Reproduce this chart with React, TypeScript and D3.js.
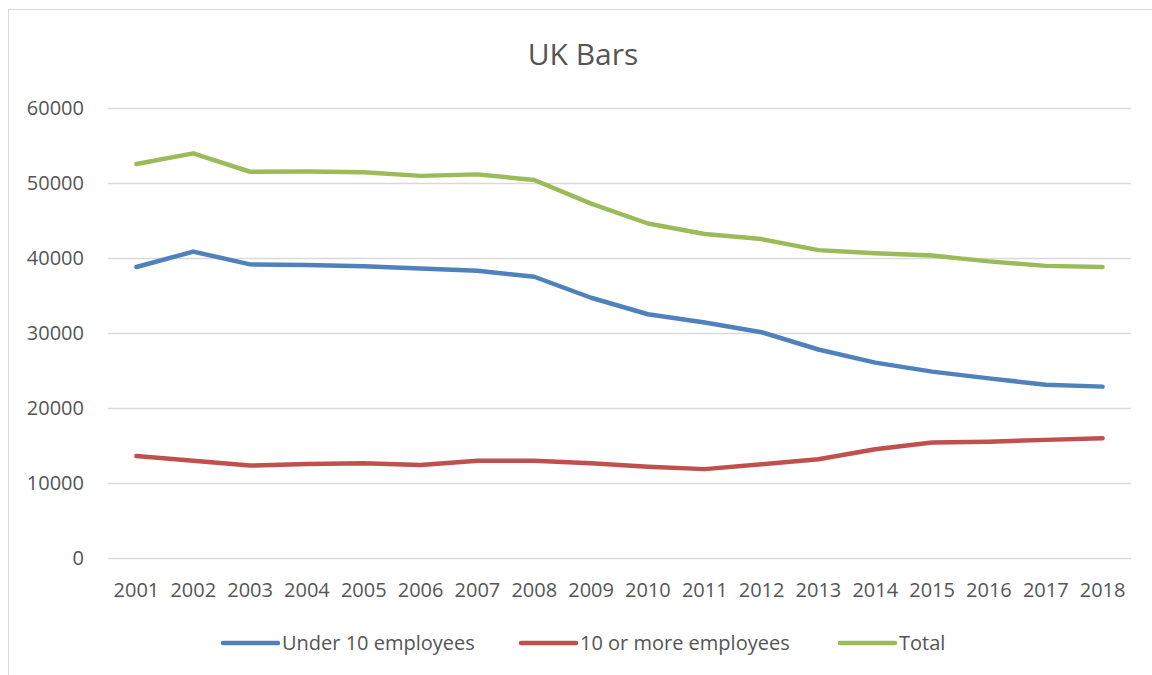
import React from "react";
import * as d3 from "d3";

const years = ["2001","2002","2003","2004","2005","2006","2007","2008","2009","2010","2011","2012","2013","2014","2015","2016","2017","2018"];
const under10 = [38800,40850,39150,39070,38900,38600,38300,37500,34700,32500,31400,30100,27800,26050,24850,23950,23100,22850];
const tenOrMore = [13600,12970,12320,12520,12620,12400,12980,12980,12620,12180,11850,12500,13170,14500,15400,15500,15750,15980];
const total = [52530,53950,51500,51520,51420,50950,51150,50400,47250,44600,43200,42520,41050,40620,40320,39550,38950,38800];
const yTicks = [0,10000,20000,30000,40000,50000,60000];
const seriesNames = ["Under 10 employees","10 or more employees","Total"];
const seriesColors = ["#4F81BD","#C0504D","#9BBB59"];

const W = 1152, H = 675;
const FONT = "'Open Sans', 'Noto Sans', sans-serif";
const TEXT = "#555555";

export default function App() {
  const x = d3.scaleBand<string>().domain(years).range([108, 1131]);
  const y = d3.scaleLinear().domain([0, 60000]).range([558, 108]);
  const line = d3.line<number>()
    .x((_, i) => (x(years[i]) as number) + x.bandwidth() / 2)
    .y(d => y(d));
  const data = [under10, tenOrMore, total];
  const legendX = [223, 521, 840];
  return (
    <svg width={W} height={H} style={{ position: "absolute", left: 0, top: 0, background: "#fff" }} fontFamily={FONT}>
      <rect x={8.5} y={9.5} width={W} height={H} fill="#fff" stroke="#D9D9D9" strokeWidth={1} />
      <text x={583} y={65} textAnchor="middle" fontSize={30} fill={TEXT}>UK Bars</text>
      {yTicks.map(t => (
        <g key={t}>
          <line x1={108} x2={1131} y1={y(t) + 0.5} y2={y(t) + 0.5} stroke="#D9D9D9" strokeWidth={1.5} />
          <text x={84} y={y(t) + 7} textAnchor="end" fontSize={20} fill={TEXT}>{t}</text>
        </g>
      ))}
      {years.map(yr => (
        <text key={yr} x={(x(yr) as number) + x.bandwidth() / 2} y={597} textAnchor="middle" fontSize={20} fill={TEXT}>{yr}</text>
      ))}
      {data.map((s, i) => (
        <path key={i} d={line(s) || ""} fill="none" stroke={seriesColors[i]} strokeWidth={4.5} strokeLinecap="round" strokeLinejoin="round" />
      ))}
      {seriesNames.map((n, i) => (
        <g key={n}>
          <line x1={legendX[i]} x2={legendX[i] + 55} y1={643} y2={643} stroke={seriesColors[i]} strokeWidth={4.5} strokeLinecap="round" />
          <text x={legendX[i] + 59} y={650} fontSize={20} fill={TEXT}>{n}</text>
        </g>
      ))}
    </svg>
  );
}
